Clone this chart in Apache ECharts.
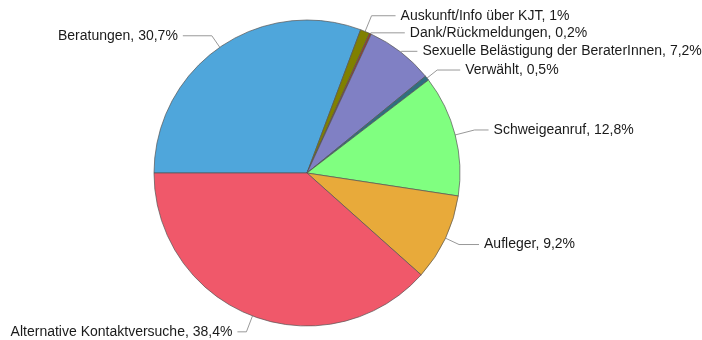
<!DOCTYPE html>
<html>
<head>
<meta charset="utf-8">
<script src="https://cdn.jsdelivr.net/npm/echarts@6/dist/echarts.min.js"></script>
<style>html,body{margin:0;padding:0;background:#fff;}#c{width:702px;height:340px;}</style>
</head>
<body>
<div id="c"></div>
<script>
var categories = ['Beratungen', 'Auskunft/Info über KJT', 'Dank/Rückmeldungen', 'Sexuelle Belästigung der BeraterInnen', 'Verwählt', 'Schweigeanruf', 'Aufleger', 'Alternative Kontaktversuche'];
var values = [30.7, 1, 0.2, 7.2, 0.5, 12.8, 9.2, 38.4];

// styling (kept apart from data)
var colors = ['#4FA6DB', '#808000', '#A03A2A', '#8080C4', '#2F6F80', '#80FF80', '#E8AA3A', '#F0586A'];
var lineLen = [14, 17, 1, 1, 13, 20, 15, 17];
var lineLen2 = [29, 24, 34, 16, 23, 14, 20, 9];

var chart = echarts.init(document.getElementById('c'));
chart.setOption({
  animation: false,
  backgroundColor: '#fff',
  series: [{
    type: 'pie',
    center: [307, 173],
    radius: [0, 153],
    startAngle: 180,
    clockwise: true,
    avoidLabelOverlap: false,
    data: categories.map(function (c, i) {
      return {
        name: c, value: values[i],
        itemStyle: { color: colors[i] },
        labelLine: { length: lineLen[i], length2: lineLen2[i] }
      };
    }),
    itemStyle: { borderColor: '#555', borderWidth: 0.7 },
    label: {
      show: true,
      position: 'outside',
      overflow: 'none',
      edgeDistance: 0,
      fontFamily: 'Liberation Sans, Arial, sans-serif',
      fontSize: 14,
      color: '#1a1a1a',
      formatter: function (p) { return p.name + ', ' + String(p.value).replace('.', ',') + '%'; }
    },
    labelLine: { show: true, lineStyle: { color: '#999', width: 1 } },
    emphasis: { disabled: true }
  }]
});
</script>
</body>
</html>
